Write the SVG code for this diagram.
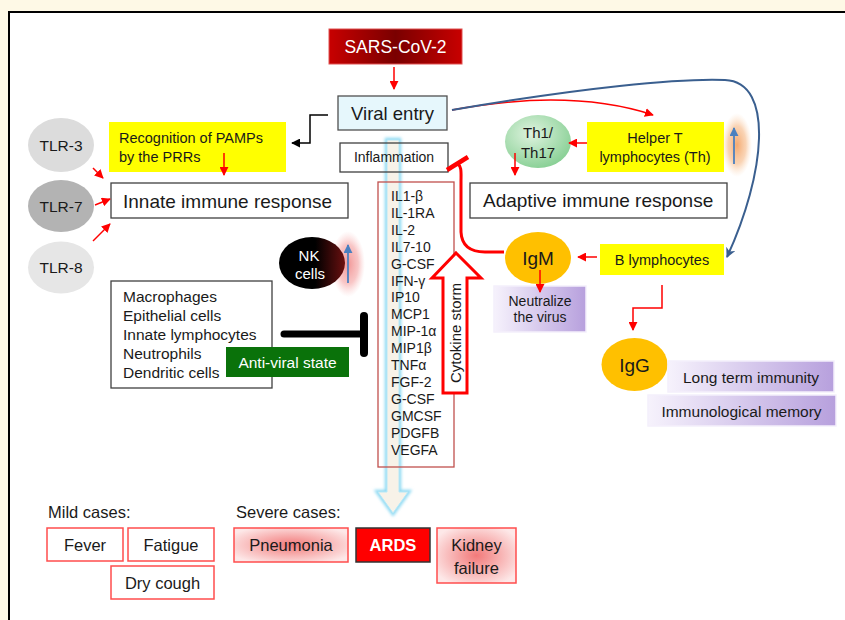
<svg xmlns="http://www.w3.org/2000/svg" width="845" height="620" viewBox="0 0 845 620">
<defs>
<style>
text { font-family: "Liberation Sans", Arial, sans-serif; fill: #1a1a1a; }
.box { fill: #ffffff; stroke: #404040; stroke-width: 1.3; }
.yel { fill: #ffff00; }
.ctr { text-anchor: middle; }
.rl { fill: none; stroke: #ff0000; stroke-width: 1.5; }
.sym { fill: #ffffff; stroke: #ff4d4d; stroke-width: 1.5; }
.purple { fill: url(#gPurple); stroke: #f4effb; stroke-width: 1.5; }
</style>
<linearGradient id="gSars" x1="0" y1="0" x2="1" y2="0">
<stop offset="0" stop-color="#c80000"/><stop offset="0.5" stop-color="#7a0000"/><stop offset="1" stop-color="#c80000"/>
</linearGradient>
<linearGradient id="gPurple" x1="0" y1="0" x2="1" y2="0">
<stop offset="0" stop-color="#f6f2fc"/><stop offset="1" stop-color="#b7a0dd"/>
</linearGradient>
<radialGradient id="gTh" cx="0.4" cy="0.35" r="0.7">
<stop offset="0" stop-color="#dff3df"/><stop offset="1" stop-color="#86cf93"/>
</radialGradient>
<linearGradient id="gNK" x1="0" y1="0" x2="1" y2="0">
<stop offset="0" stop-color="#000000"/><stop offset="0.55" stop-color="#000000"/><stop offset="1" stop-color="#6a1010"/>
</linearGradient>
<radialGradient id="gRedGlow" cx="0.5" cy="0.5" r="0.5">
<stop offset="0" stop-color="#f08a8a" stop-opacity="0.9"/><stop offset="0.6" stop-color="#f4a0a0" stop-opacity="0.6"/><stop offset="1" stop-color="#f8c0c0" stop-opacity="0"/>
</radialGradient>
<radialGradient id="gOrgGlow" cx="0.5" cy="0.5" r="0.5">
<stop offset="0" stop-color="#f3a060" stop-opacity="0.9"/><stop offset="0.6" stop-color="#f6b885" stop-opacity="0.6"/><stop offset="1" stop-color="#fbd8b8" stop-opacity="0"/>
</radialGradient>
<radialGradient id="gSev" cx="0.5" cy="0.5" r="0.6">
<stop offset="0" stop-color="#f27a7a"/><stop offset="1" stop-color="#fde8e8"/>
</radialGradient>
<filter id="blur" x="-50%" y="-10%" width="200%" height="120%"><feGaussianBlur stdDeviation="1.6"/></filter>
<marker id="ar" viewBox="0 0 10 10" refX="9" refY="5" markerWidth="9" markerHeight="9" markerUnits="userSpaceOnUse" orient="auto"><path d="M0,0 L10,5 L0,10 z" fill="#ff0000"/></marker>
<marker id="ab" viewBox="0 0 10 10" refX="9" refY="5" markerWidth="9" markerHeight="9" markerUnits="userSpaceOnUse" orient="auto"><path d="M0,0 L10,5 L0,10 z" fill="#000000"/></marker>
<marker id="au" viewBox="0 0 10 10" refX="9" refY="5" markerWidth="10" markerHeight="10" markerUnits="userSpaceOnUse" orient="auto"><path d="M0,0 L10,5 L0,10 L3,5 z" fill="#3a5f8f"/></marker>
<marker id="asb" viewBox="0 0 10 10" refX="9" refY="5" markerWidth="9" markerHeight="9" markerUnits="userSpaceOnUse" orient="auto"><path d="M0,0 L10,5 L0,10 z" fill="#4a80c0"/></marker>
</defs>

<rect x="0" y="0" width="845" height="620" fill="#fef9e6"/>
<rect x="9" y="12" width="850" height="620" fill="#ffffff" stroke="#000000" stroke-width="2"/>

<g id="cytokine-flow">
<path d="M387,140 L399,140 L399,492 L408,492 L393,513 L378,492 L387,492 Z" fill="none" stroke="#8fdaf3" stroke-width="4.5" filter="url(#blur)"/>
<path d="M387,140 L399,140 L399,492 L408,492 L393,513 L378,492 L387,492 Z" fill="#f7f2e8" stroke="#b8e8f7" stroke-width="1"/>
</g>

<g id="sars">
<rect x="329" y="29" width="133" height="35" fill="url(#gSars)" stroke="#e05050" stroke-width="1"/>
<text x="395.5" y="53" class="ctr" font-size="17.5" style="fill:#ffffff">SARS-CoV-2</text>
</g>

<g id="viral-entry">
<rect x="338" y="96" width="109" height="34" fill="#e6f7fc" stroke="#505050" stroke-width="1.3"/>
<text x="392.5" y="119.5" class="ctr" font-size="18.5">Viral entry</text>
</g>

<g id="recognition">
<rect x="109" y="122" width="177" height="50" class="yel"/>
<text x="119" y="143" font-size="14.5">Recognition of PAMPs</text>
<text x="119" y="162" font-size="14.5">by the PRRs</text>
</g>

<g id="tlr3">
<ellipse cx="61" cy="145" rx="33" ry="27" fill="#dcdcdc"/>
<text x="61" y="150.5" class="ctr" font-size="15.5">TLR-3</text>
</g>
<g id="tlr7">
<ellipse cx="61" cy="206" rx="33" ry="26" fill="#b3b3b3"/>
<text x="61" y="211.5" class="ctr" font-size="15.5">TLR-7</text>
</g>
<g id="tlr8">
<ellipse cx="61" cy="267.5" rx="33" ry="26" fill="#e6e6e6"/>
<text x="61" y="273" class="ctr" font-size="15.5">TLR-8</text>
</g>

<g id="innate">
<rect x="111" y="183" width="237" height="35" class="box"/>
<text x="123" y="207.5" font-size="19">Innate immune response</text>
</g>

<g id="inflammation">
<rect x="340" y="143" width="108" height="29" fill="none" stroke="#404040" stroke-width="1.3"/>
<text x="394" y="162" class="ctr" font-size="14">Inflammation</text>
</g>

<g id="cytokines">
<rect x="378" y="182" width="76" height="285" fill="none" stroke="#c0504d" stroke-width="1.3"/>
<g font-size="14">
<text x="391" y="201">IL1-β</text>
<text x="391" y="217.9">IL-1RA</text>
<text x="391" y="234.8">IL-2</text>
<text x="391" y="251.7">IL7-10</text>
<text x="391" y="268.6">G-CSF</text>
<text x="391" y="285.5">IFN-γ</text>
<text x="391" y="302.4">IP10</text>
<text x="391" y="319.3">MCP1</text>
<text x="391" y="336.2">MIP-1α</text>
<text x="391" y="353.1">MIP1β</text>
<text x="391" y="370">TNFα</text>
<text x="391" y="386.9">FGF-2</text>
<text x="391" y="403.8">G-CSF</text>
<text x="391" y="420.7">GMCSF</text>
<text x="391" y="437.6">PDGFB</text>
<text x="391" y="454.5">VEGFA</text>
</g>
</g>

<g id="cytokine-storm">
<path d="M456,253 L481,278 L467,278 L467,393 L443,393 L443,278 L432,278 Z" fill="#ffffff" stroke="#ff0000" stroke-width="3" stroke-linejoin="miter"/>
<text transform="translate(461,333) rotate(-90)" class="ctr" font-size="15">Cytokine storm</text>
</g>

<g id="adaptive">
<rect x="470" y="183" width="257" height="35" class="box"/>
<text x="483" y="207" font-size="19">Adaptive immune response</text>
</g>

<g id="th1-th17">
<ellipse cx="538" cy="141.5" rx="33" ry="26.5" fill="url(#gTh)"/>
<text x="538" y="138" class="ctr" font-size="15">Th1/</text>
<text x="538" y="157.5" class="ctr" font-size="15">Th17</text>
</g>

<g id="helper-t">
<rect x="587" y="122" width="137" height="50" class="yel"/>
<text x="655" y="143" class="ctr" font-size="14.5">Helper T</text>
<text x="655" y="162" class="ctr" font-size="14.5">lymphocytes (Th)</text>
<ellipse cx="737" cy="145" rx="15" ry="32" fill="url(#gOrgGlow)"/>
<line x1="734" y1="164" x2="734" y2="128" stroke="#4a80c0" stroke-width="1.8" marker-end="url(#asb)"/>
</g>

<g id="nk-cells">
<ellipse cx="348" cy="264" rx="17" ry="33" fill="url(#gRedGlow)"/>
<ellipse cx="312" cy="263" rx="33" ry="26" fill="url(#gNK)"/>
<text x="309" y="260.5" class="ctr" font-size="15" style="fill:#ffffff">NK</text>
<text x="310" y="278.5" class="ctr" font-size="15" style="fill:#ffffff">cells</text>
<line x1="348" y1="283" x2="348" y2="245" stroke="#4a80c0" stroke-width="1.8" marker-end="url(#asb)"/>
</g>

<g id="innate-cells">
<rect x="111" y="281" width="161" height="107" class="box"/>
<g font-size="15.5">
<text x="123" y="302">Macrophages</text>
<text x="123" y="321">Epithelial cells</text>
<text x="123" y="340">Innate lymphocytes</text>
<text x="123" y="359">Neutrophils</text>
<text x="123" y="378">Dendritic cells</text>
</g>
</g>

<g id="anti-viral">
<rect x="226" y="347" width="123" height="30" fill="#0a720a"/>
<text x="287.5" y="367.5" class="ctr" font-size="15.5" style="fill:#ffffff">Anti-viral state</text>
</g>

<g id="igm">
<ellipse cx="538" cy="258" rx="33" ry="26" fill="#ffc000"/>
<text x="538" y="265" class="ctr" font-size="19">IgM</text>
</g>

<g id="b-lymphocytes">
<rect x="600" y="244" width="124" height="31" class="yel"/>
<text x="662" y="265" class="ctr" font-size="14.5">B lymphocytes</text>
</g>

<g id="neutralize">
<rect x="494" y="286" width="92" height="46" class="purple"/>
<text x="540" y="306" class="ctr" font-size="14">Neutralize</text>
<text x="540" y="322" class="ctr" font-size="14">the virus</text>
</g>

<g id="igg">
<ellipse cx="634.5" cy="364.5" rx="33" ry="26.5" fill="#ffc000"/>
<text x="634.5" y="371.5" class="ctr" font-size="19">IgG</text>
</g>

<g id="long-term">
<rect x="668" y="361" width="166" height="31" class="purple"/>
<text x="751" y="382.5" class="ctr" font-size="15.5">Long term immunity</text>
</g>

<g id="memory">
<rect x="648" y="395" width="188" height="31" class="purple"/>
<text x="741.5" y="416.5" class="ctr" font-size="15.5">Immunological memory</text>
</g>

<g id="mild">
<text x="48" y="518" font-size="16.5">Mild cases:</text>
<rect x="47" y="528" width="76" height="33" class="sym"/>
<text x="85" y="551" class="ctr" font-size="16.5">Fever</text>
<rect x="128" y="528" width="86" height="33" class="sym"/>
<text x="171" y="551" class="ctr" font-size="16.5">Fatigue</text>
<rect x="111" y="566" width="103" height="33" class="sym"/>
<text x="162.5" y="588.5" class="ctr" font-size="16.5">Dry cough</text>
</g>

<g id="severe">
<text x="236" y="518" font-size="16.5">Severe cases:</text>
<rect x="234" y="528" width="114" height="34" fill="url(#gSev)" stroke="#ff4d4d" stroke-width="1.5"/>
<text x="291" y="551" class="ctr" font-size="16.5">Pneumonia</text>
<rect x="356" y="528" width="74" height="34" fill="#ff0000" stroke="#333333" stroke-width="1.5"/>
<text x="393" y="551" class="ctr" font-size="16.5" font-weight="bold" style="fill:#ffffff">ARDS</text>
<rect x="437" y="528" width="79" height="55" fill="url(#gSev)" stroke="#ff4d4d" stroke-width="1.5"/>
<text x="476.5" y="551" class="ctr" font-size="16.5">Kidney</text>
<text x="476.5" y="574" class="ctr" font-size="16.5">failure</text>
</g>

<g id="connectors">
<line x1="394" y1="67" x2="394" y2="89" class="rl" marker-end="url(#ar)"/>
<polyline points="328,115 310,115 310,143 292,143" fill="none" stroke="#000000" stroke-width="1.5" marker-end="url(#ab)"/>
<line x1="224" y1="153" x2="224" y2="175" class="rl" marker-end="url(#ar)"/>
<line x1="93" y1="168" x2="103" y2="178" class="rl" marker-end="url(#ar)"/>
<line x1="95" y1="205" x2="110" y2="199" class="rl" marker-end="url(#ar)"/>
<line x1="93" y1="241" x2="110" y2="224" class="rl" marker-end="url(#ar)"/>
<path d="M452,110 Q570,88 653,115" class="rl" marker-end="url(#ar)"/>
<path d="M452,110 C580,88 680,78 725,80 C775,82 765,175 727,257" fill="none" stroke="#3a5f8f" stroke-width="2" marker-end="url(#au)"/>
<line x1="587" y1="143" x2="569" y2="143" class="rl" marker-end="url(#ar)"/>
<line x1="515" y1="153" x2="515" y2="175" class="rl" marker-end="url(#ar)"/>
<line x1="597" y1="257" x2="578" y2="257" class="rl" marker-end="url(#ar)"/>
<line x1="540" y1="270" x2="540" y2="292" class="rl" marker-end="url(#ar)"/>
<polyline points="662,285 662,308 633,308 633,330" class="rl" marker-end="url(#ar)"/>
<path d="M457,163 C462,167 461,172 461,182 L461,232 Q462,252 485,252 L504,252" fill="none" stroke="#ff0000" stroke-width="3"/>
<line x1="447" y1="170" x2="468" y2="157" stroke="#ff0000" stroke-width="4.5"/>
<line x1="284" y1="334" x2="364" y2="334" stroke="#000000" stroke-width="7" stroke-linecap="round"/>
<line x1="364" y1="316" x2="364" y2="353" stroke="#000000" stroke-width="8" stroke-linecap="round"/>
</g>
</svg>
